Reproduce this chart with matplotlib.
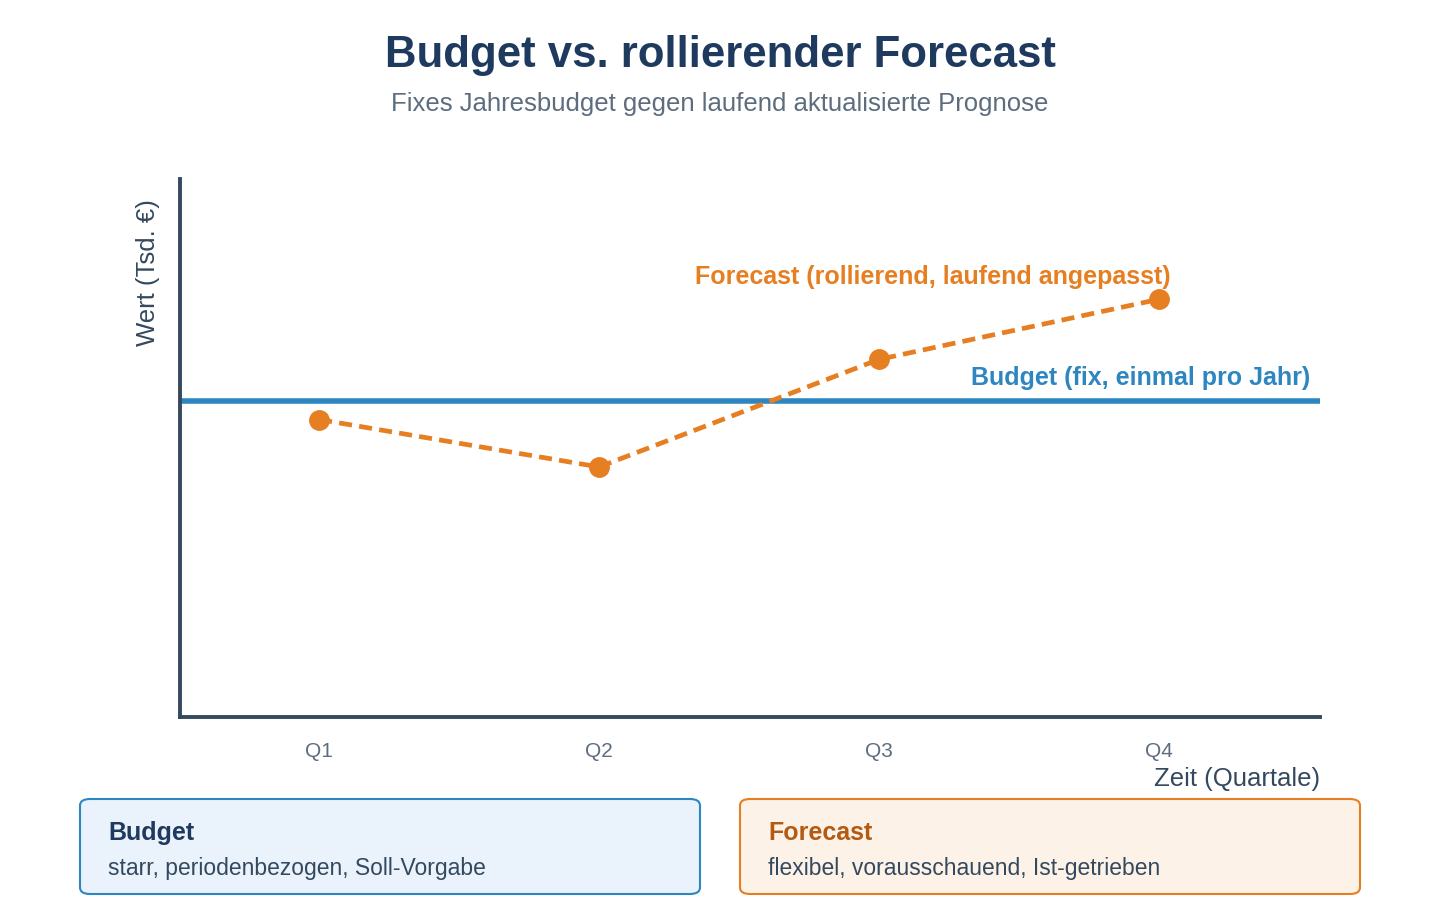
import matplotlib.pyplot as plt
from matplotlib.patches import FancyBboxPatch

plt.rcParams['font.family'] = ['Liberation Sans', 'DejaVu Sans']
plt.rcParams['lines.scale_dashes'] = False

# data
quarters = ["Q1", "Q2", "Q3", "Q4"]
quarter_pos = [1, 2, 3, 4]
forecast = [94, 79, 113, 132]
budget = 100

BLUE = "#2e86c1"
ORANGE = "#e67e22"
NAVY = "#1f3a5f"
AXIS = "#34495e"
GREY = "#5d6d7e"

fig = plt.figure(figsize=(14.4, 9.2), dpi=100)
ax = fig.add_axes([180 / 1440, 1 - 718 / 920, 1140 / 1440, 538 / 920])

ax.axhline(budget, color=BLUE, lw=4, zorder=2)
ax.plot(quarter_pos, forecast, color=ORANGE, lw=3.4, dashes=(9.4, 5.2),
        marker="o", markersize=14, zorder=3)

ax.set_xlim(0.503, 4.575)
ax.set_ylim(0, 170)
ax.set_yticks([])
ax.set_xticks(quarter_pos)
ax.set_xticklabels(quarters, fontsize=15, color=GREY)
ax.tick_params(axis="x", length=0, pad=17)

for side in ["top", "right"]:
    ax.spines[side].set_visible(False)
for side in ["left", "bottom"]:
    ax.spines[side].set_color(AXIS)
    ax.spines[side].set_linewidth(2.8)

# line labels
ax.annotate("Forecast (rollierend, laufend angepasst)", xy=(4, forecast[-1]),
            xytext=(8, 17), textcoords="offset points", ha="right", va="center",
            fontsize=18, fontweight="bold", color=ORANGE)
ax.annotate("Budget (fix, einmal pro Jahr)", xy=(4.575, budget),
            xytext=(-7, 17), textcoords="offset points", ha="right", va="center",
            fontsize=18, fontweight="bold", color=BLUE)

# titles and axis labels
fig.text(0.5, 1 - 55 / 920, "Budget vs. rollierender Forecast", ha="center",
         va="center", fontsize=31.5, fontweight="bold", color=NAVY)
fig.text(0.5, 1 - 104 / 920, "Fixes Jahresbudget gegen laufend aktualisierte Prognose",
         ha="center", va="center", fontsize=18.5, color=GREY)
fig.text(148 / 1440, 1 - 199 / 920, "Wert (Tsd. €)", rotation=90, ha="center",
         va="top", fontsize=18.5, color=AXIS)
fig.text(1320 / 1440, 1 - 779 / 920, "Zeit (Quartale)", ha="right", va="center",
         fontsize=18.5, color=AXIS)

# info boxes
boxes = [
    (80, "Budget", "starr, periodenbezogen, Soll-Vorgabe", "#eaf2fb", BLUE, NAVY),
    (740, "Forecast", "flexibel, vorausschauend, Ist-getrieben", "#fdf2e7", ORANGE, "#b35b12"),
]
for x0, head, body, fill, edge, head_col in boxes:
    patch = FancyBboxPatch((x0 / 1440, 1 - 895 / 920), 620 / 1440, 95 / 920,
                           boxstyle="round,pad=0,rounding_size=0.007",
                           transform=fig.transFigure, facecolor=fill,
                           edgecolor=edge, linewidth=1.5)
    fig.patches.append(patch)
    fig.text((x0 + 28) / 1440, 1 - 833 / 920, head, ha="left", va="center",
             fontsize=18, fontweight="bold", color=head_col)
    fig.text((x0 + 28) / 1440, 1 - 869 / 920, body, ha="left", va="center",
             fontsize=16.5, color=AXIS)

fig.savefig("out.png", dpi=100)
